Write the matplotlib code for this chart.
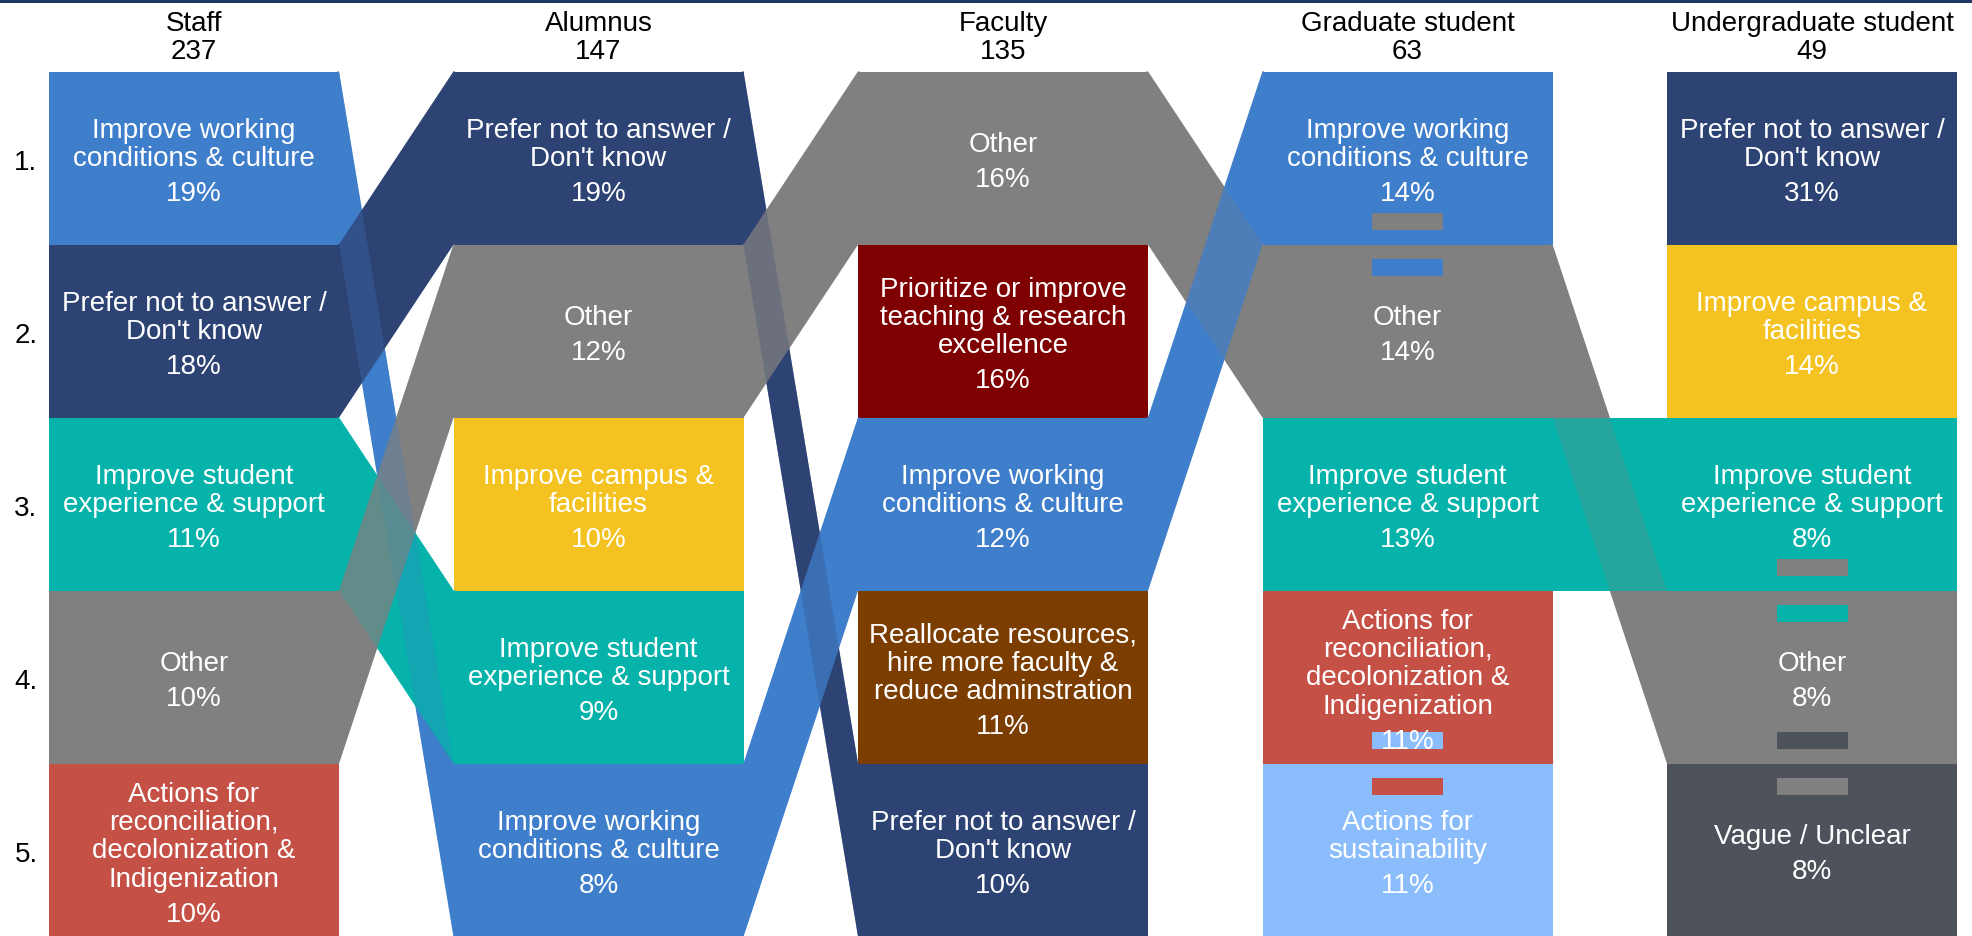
import matplotlib
matplotlib.use("Agg")
import matplotlib.pyplot as plt
from matplotlib.patches import Polygon, Rectangle

# ---------------- data ----------------
groups = ["Staff", "Alumnus", "Faculty", "Graduate student", "Undergraduate student"]
respondents = [237, 147, 135, 63, 49]

labels = {
    "WC": "Improve working\nconditions & culture",
    "PN": "Prefer not to answer /\nDon't know",
    "SE": "Improve student\nexperience & support",
    "OT": "Other",
    "RC": "Actions for\nreconciliation,\ndecolonization &\nIndigenization",
    "CF": "Improve campus &\nfacilities",
    "TR": "Prioritize or improve\nteaching & research\nexcellence",
    "RA": "Reallocate resources,\nhire more faculty &\nreduce adminstration",
    "SU": "Actions for\nsustainability",
    "VU": "Vague / Unclear",
}

colors = {
    "WC": "#3F7ECB",
    "PN": "#2D4373",
    "SE": "#06B3AA",
    "OT": "#808080",
    "RC": "#C55045",
    "CF": "#F4C322",
    "TR": "#7F0000",
    "RA": "#7B3D00",
    "SU": "#8BBDFC",
    "VU": "#4D525B",
}

staff_cats = ["WC", "PN", "SE", "OT", "RC"]
staff_pct = [19, 18, 11, 10, 10]
alumnus_cats = ["PN", "OT", "CF", "SE", "WC"]
alumnus_pct = [19, 12, 10, 9, 8]
faculty_cats = ["OT", "TR", "WC", "RA", "PN"]
faculty_pct = [16, 16, 12, 11, 10]
grad_cats = ["WC", "OT", "SE", "RC", "SU"]
grad_pct = [14, 14, 13, 11, 11]
undergrad_cats = ["PN", "CF", "SE", "OT", "VU"]
undergrad_pct = [31, 14, 8, 8, 8]

cats = [staff_cats, alumnus_cats, faculty_cats, grad_cats, undergrad_cats]
pcts = [staff_pct, alumnus_pct, faculty_pct, grad_pct, undergrad_pct]

# tied ranks (column index, upper rank) -> tie between rank r and r+1
ties = [(3, 1), (3, 4), (4, 3), (4, 4)]

rank_labels = ["1.", "2.", "3.", "4.", "5."]

# ---------------- layout ----------------
W, H = 1972, 936
X0, PITCH, BOXW = 49, 404.5, 290
Y0, ROWH = 71.5, 173.0
FS = 20
FONT = "Liberation Sans"
CAPC = 9.6          # baseline offset from cap centre (px)
LINE = 28.3         # line pitch
PGAP = 35.0         # gap last label line -> pct
OFF = 2.0
SEAM = 1.5          # ribbon overlap into boxes to hide antialias seams

fig = plt.figure(figsize=(W / 100, H / 100), dpi=100)
ax = fig.add_axes([0, 0, 1, 1])
ax.set_xlim(0, W)
ax.set_ylim(H, 0)
ax.axis("off")


def col_left(c):
    return X0 + c * PITCH


def row_top(r):
    return Y0 + r * ROWH


# boxes
for c, (cl, pl) in enumerate(zip(cats, pcts)):
    for r, k in enumerate(cl):
        ax.add_patch(Rectangle((col_left(c), row_top(r)), BOXW, ROWH,
                               facecolor=colors[k], edgecolor="none", zorder=1))

# ribbons (opaque layer + translucent layer for blended crossings)
ribbons = []
for c in range(len(cats) - 1):
    xl = col_left(c) + BOXW
    xr = col_left(c + 1)
    for r, k in enumerate(cats[c]):
        if k in cats[c + 1]:
            r2 = cats[c + 1].index(k)
            t1, b1 = row_top(r), row_top(r) + ROWH
            t2, b2 = row_top(r2), row_top(r2) + ROWH
            pts = [(xl - SEAM, t1), (xl, t1), (xr, t2), (xr + SEAM, t2),
                   (xr + SEAM, b2), (xr, b2), (xl, b1), (xl - SEAM, b1)]
            ribbons.append((pts, colors[k]))
for pts, col in ribbons:
    ax.add_patch(Polygon(pts, closed=True, facecolor=col, edgecolor="none", zorder=2))
for pts, col in ribbons:
    ax.add_patch(Polygon(pts, closed=True, facecolor=col, edgecolor="none",
                         alpha=0.5, zorder=3))

# tie markers
MW, MH = 71, 17
for c, r in ties:
    r0 = r - 1
    boundary = row_top(r0 + 1)
    cx = col_left(c) + BOXW / 2
    upper, lower = cats[c][r0], cats[c][r0 + 1]
    ax.add_patch(Rectangle((cx - MW / 2, boundary - 15 - MH), MW, MH,
                           facecolor=colors[lower], edgecolor="none", zorder=4))
    ax.add_patch(Rectangle((cx - MW / 2, boundary + 14), MW, MH,
                           facecolor=colors[upper], edgecolor="none", zorder=4))

# box texts
for c, (cl, pl) in enumerate(zip(cats, pcts)):
    cx = col_left(c) + BOXW / 2
    for r, (k, p) in enumerate(zip(cl, pl)):
        lines = labels[k].split("\n")
        n = len(lines)
        span = (n - 1) * LINE + PGAP
        rc = row_top(r) + ROWH / 2 + OFF
        first = rc - span / 2
        for i, ln in enumerate(lines):
            ax.text(cx, first + i * LINE + CAPC, ln, ha="center", va="baseline",
                    color="white", fontsize=FS, family=FONT, zorder=5)
        ax.text(cx, first + span + CAPC, f"{p}%", ha="center", va="baseline",
                color="white", fontsize=FS, family=FONT, zorder=5)

# headers
for c, (g, n) in enumerate(zip(groups, respondents)):
    cx = col_left(c) + BOXW / 2
    ax.text(cx, 21.7 + CAPC, g, ha="center", va="baseline", color="black",
            fontsize=FS, family=FONT)
    ax.text(cx, 49.0 + CAPC, str(n), ha="center", va="baseline", color="black",
            fontsize=FS, family=FONT)

# rank labels
for r, lab in enumerate(rank_labels):
    ax.text(37.5, row_top(r) + ROWH / 2 + OFF + CAPC, lab, ha="right", va="baseline",
            color="black", fontsize=FS, family=FONT)

# top rule
ax.add_patch(Rectangle((0, 0), W, 3, facecolor="#1F3864", edgecolor="none", zorder=6))

fig.savefig("out.png", dpi=100)
